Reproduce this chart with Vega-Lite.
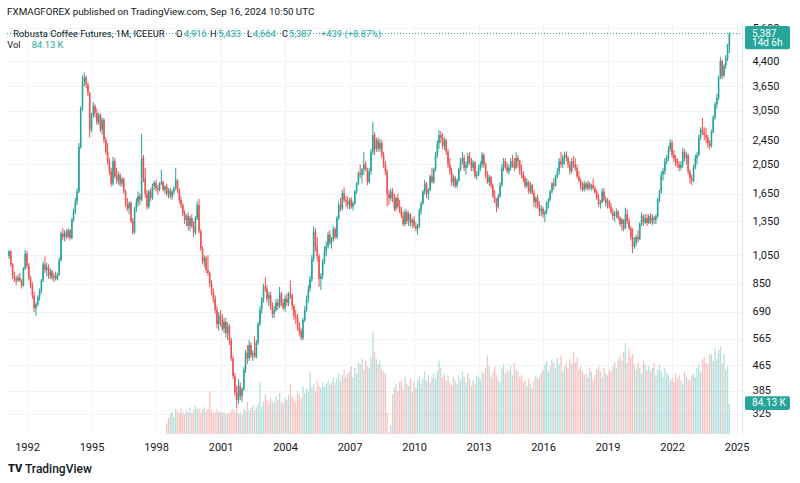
{
"$schema":"https://vega.github.io/schema/vega-lite/v6.json",
"autosize":"none",
"width":735,"height":412,
"padding":{"left":7,"top":22,"right":58,"bottom":49},
"background":"#ffffff",
"config":{"font":"Roboto","view":{"stroke":null}},
"datasets":{
"ohlc":[
{"t":"1991-03","o":1040,"h":1090,"l":1020,"c":1080},
{"t":"1991-04","o":1080,"h":1085,"l":960,"c":980},
{"t":"1991-05","o":980,"h":990,"l":880,"c":900},
{"t":"1991-06","o":900,"h":930,"l":860,"c":880},
{"t":"1991-07","o":880,"h":900,"l":840,"c":870},
{"t":"1991-08","o":870,"h":910,"l":860,"c":890},
{"t":"1991-09","o":890,"h":920,"l":860,"c":870},
{"t":"1991-10","o":870,"h":880,"l":820,"c":840},
{"t":"1991-11","o":840,"h":960,"l":830,"c":950},
{"t":"1991-12","o":950,"h":1090,"l":940,"c":1060},
{"t":"1992-01","o":1060,"h":1080,"l":950,"c":970},
{"t":"1992-02","o":970,"h":990,"l":870,"c":890},
{"t":"1992-03","o":890,"h":900,"l":820,"c":840},
{"t":"1992-04","o":840,"h":860,"l":760,"c":780},
{"t":"1992-05","o":780,"h":800,"l":690,"c":710},
{"t":"1992-06","o":710,"h":740,"l":670,"c":730},
{"t":"1992-07","o":730,"h":780,"l":720,"c":770},
{"t":"1992-08","o":770,"h":820,"l":750,"c":800},
{"t":"1992-09","o":800,"h":880,"l":790,"c":870},
{"t":"1992-10","o":870,"h":1000,"l":860,"c":980},
{"t":"1992-11","o":980,"h":1040,"l":920,"c":940},
{"t":"1992-12","o":940,"h":990,"l":900,"c":960},
{"t":"1993-01","o":960,"h":980,"l":880,"c":900},
{"t":"1993-02","o":900,"h":950,"l":880,"c":930},
{"t":"1993-03","o":930,"h":940,"l":870,"c":890},
{"t":"1993-04","o":890,"h":920,"l":860,"c":900},
{"t":"1993-05","o":900,"h":930,"l":870,"c":880},
{"t":"1993-06","o":880,"h":920,"l":870,"c":910},
{"t":"1993-07","o":910,"h":1030,"l":900,"c":1010},
{"t":"1993-08","o":1010,"h":1250,"l":1000,"c":1230},
{"t":"1993-09","o":1230,"h":1280,"l":1170,"c":1200},
{"t":"1993-10","o":1200,"h":1260,"l":1160,"c":1240},
{"t":"1993-11","o":1240,"h":1270,"l":1180,"c":1200},
{"t":"1993-12","o":1200,"h":1280,"l":1190,"c":1260},
{"t":"1994-01","o":1260,"h":1270,"l":1170,"c":1190},
{"t":"1994-02","o":1190,"h":1380,"l":1180,"c":1360},
{"t":"1994-03","o":1360,"h":1480,"l":1340,"c":1450},
{"t":"1994-04","o":1450,"h":1600,"l":1420,"c":1560},
{"t":"1994-05","o":1560,"h":1720,"l":1520,"c":1680},
{"t":"1994-06","o":1680,"h":2400,"l":1660,"c":2330},
{"t":"1994-07","o":2330,"h":3150,"l":2300,"c":3100},
{"t":"1994-08","o":3100,"h":3960,"l":3050,"c":3800},
{"t":"1994-09","o":3800,"h":4040,"l":3650,"c":3900},
{"t":"1994-10","o":3900,"h":3950,"l":3600,"c":3700},
{"t":"1994-11","o":3700,"h":3750,"l":3400,"c":3480},
{"t":"1994-12","o":3480,"h":3500,"l":2500,"c":2650},
{"t":"1995-01","o":2650,"h":3000,"l":2600,"c":2950},
{"t":"1995-02","o":2950,"h":3250,"l":2900,"c":3150},
{"t":"1995-03","o":3150,"h":3200,"l":2900,"c":3000},
{"t":"1995-04","o":3000,"h":3100,"l":2750,"c":2800},
{"t":"1995-05","o":2800,"h":3000,"l":2750,"c":2950},
{"t":"1995-06","o":2950,"h":2980,"l":2600,"c":2650},
{"t":"1995-07","o":2650,"h":2900,"l":2550,"c":2850},
{"t":"1995-08","o":2850,"h":2880,"l":2400,"c":2450},
{"t":"1995-09","o":2450,"h":2500,"l":2200,"c":2250},
{"t":"1995-10","o":2250,"h":2400,"l":2050,"c":2100},
{"t":"1995-11","o":2100,"h":2150,"l":1900,"c":1950},
{"t":"1995-12","o":1950,"h":2000,"l":1740,"c":1780},
{"t":"1996-01","o":1780,"h":2170,"l":1750,"c":2100},
{"t":"1996-02","o":2100,"h":2150,"l":1850,"c":1880},
{"t":"1996-03","o":1880,"h":2000,"l":1780,"c":1820},
{"t":"1996-04","o":1820,"h":1950,"l":1760,"c":1900},
{"t":"1996-05","o":1900,"h":1920,"l":1740,"c":1780},
{"t":"1996-06","o":1780,"h":1870,"l":1740,"c":1840},
{"t":"1996-07","o":1840,"h":1860,"l":1650,"c":1680},
{"t":"1996-08","o":1680,"h":1700,"l":1500,"c":1530},
{"t":"1996-09","o":1530,"h":1600,"l":1450,"c":1480},
{"t":"1996-10","o":1480,"h":1560,"l":1420,"c":1540},
{"t":"1996-11","o":1540,"h":1560,"l":1330,"c":1350},
{"t":"1996-12","o":1350,"h":1380,"l":1220,"c":1240},
{"t":"1997-01","o":1240,"h":1500,"l":1230,"c":1480},
{"t":"1997-02","o":1480,"h":1600,"l":1440,"c":1550},
{"t":"1997-03","o":1550,"h":1680,"l":1500,"c":1620},
{"t":"1997-04","o":1620,"h":1660,"l":1520,"c":1580},
{"t":"1997-05","o":1580,"h":2570,"l":1560,"c":2150},
{"t":"1997-06","o":2150,"h":2200,"l":1800,"c":1850},
{"t":"1997-07","o":1850,"h":2000,"l":1600,"c":1650},
{"t":"1997-08","o":1650,"h":1700,"l":1470,"c":1500},
{"t":"1997-09","o":1500,"h":1700,"l":1480,"c":1680},
{"t":"1997-10","o":1680,"h":1720,"l":1560,"c":1600},
{"t":"1997-11","o":1600,"h":1780,"l":1580,"c":1750},
{"t":"1997-12","o":1750,"h":1820,"l":1700,"c":1790},
{"t":"1998-01","o":1790,"h":1830,"l":1680,"c":1720},
{"t":"1998-02","o":1720,"h":1760,"l":1640,"c":1700},
{"t":"1998-03","o":1700,"h":1800,"l":1680,"c":1780},
{"t":"1998-04","o":1780,"h":1970,"l":1760,"c":1800},
{"t":"1998-05","o":1800,"h":1820,"l":1680,"c":1700},
{"t":"1998-06","o":1700,"h":1760,"l":1650,"c":1740},
{"t":"1998-07","o":1740,"h":1780,"l":1620,"c":1650,"v":30},
{"t":"1998-08","o":1650,"h":1720,"l":1600,"c":1690,"v":45},
{"t":"1998-09","o":1690,"h":1720,"l":1590,"c":1620,"v":55},
{"t":"1998-10","o":1620,"h":1700,"l":1580,"c":1680,"v":62},
{"t":"1998-11","o":1680,"h":1740,"l":1640,"c":1720,"v":48},
{"t":"1998-12","o":1720,"h":2000,"l":1700,"c":1820,"v":70},
{"t":"1999-01","o":1820,"h":1840,"l":1660,"c":1700,"v":65},
{"t":"1999-02","o":1700,"h":1720,"l":1540,"c":1580,"v":58},
{"t":"1999-03","o":1580,"h":1620,"l":1480,"c":1520,"v":72},
{"t":"1999-04","o":1520,"h":1540,"l":1400,"c":1430,"v":60},
{"t":"1999-05","o":1430,"h":1460,"l":1320,"c":1360,"v":55},
{"t":"1999-06","o":1360,"h":1420,"l":1300,"c":1400,"v":68},
{"t":"1999-07","o":1400,"h":1440,"l":1260,"c":1300,"v":62},
{"t":"1999-08","o":1300,"h":1400,"l":1250,"c":1380,"v":75},
{"t":"1999-09","o":1380,"h":1420,"l":1280,"c":1300,"v":58},
{"t":"1999-10","o":1300,"h":1350,"l":1200,"c":1240,"v":66},
{"t":"1999-11","o":1240,"h":1400,"l":1220,"c":1380,"v":80},
{"t":"1999-12","o":1380,"h":1560,"l":1360,"c":1520,"v":70},
{"t":"2000-01","o":1520,"h":1590,"l":1230,"c":1250,"v":72},
{"t":"2000-02","o":1250,"h":1270,"l":1080,"c":1100,"v":60},
{"t":"2000-03","o":1100,"h":1120,"l":980,"c":1000,"v":68},
{"t":"2000-04","o":1000,"h":1050,"l":960,"c":1030,"v":75},
{"t":"2000-05","o":1030,"h":1040,"l":920,"c":940,"v":64},
{"t":"2000-06","o":940,"h":1050,"l":900,"c":920,"v":70},
{"t":"2000-07","o":920,"h":930,"l":830,"c":850,"v":120},
{"t":"2000-08","o":850,"h":870,"l":780,"c":800,"v":66},
{"t":"2000-09","o":800,"h":820,"l":740,"c":760,"v":58},
{"t":"2000-10","o":760,"h":780,"l":680,"c":700,"v":62},
{"t":"2000-11","o":700,"h":720,"l":610,"c":630,"v":70},
{"t":"2000-12","o":630,"h":690,"l":600,"c":670,"v":60},
{"t":"2001-01","o":670,"h":700,"l":620,"c":650,"v":64},
{"t":"2001-02","o":650,"h":680,"l":600,"c":610,"v":58},
{"t":"2001-03","o":610,"h":660,"l":590,"c":640,"v":62},
{"t":"2001-04","o":640,"h":660,"l":570,"c":590,"v":55},
{"t":"2001-05","o":590,"h":640,"l":560,"c":620,"v":60},
{"t":"2001-06","o":620,"h":630,"l":540,"c":560,"v":58},
{"t":"2001-07","o":560,"h":570,"l":480,"c":490,"v":66},
{"t":"2001-08","o":490,"h":500,"l":420,"c":430,"v":70},
{"t":"2001-09","o":430,"h":440,"l":370,"c":380,"v":62},
{"t":"2001-10","o":380,"h":400,"l":340,"c":360,"v":75},
{"t":"2001-11","o":360,"h":420,"l":350,"c":400,"v":58},
{"t":"2001-12","o":400,"h":410,"l":360,"c":370,"v":60},
{"t":"2002-01","o":370,"h":395,"l":355,"c":390,"v":55},
{"t":"2002-02","o":390,"h":460,"l":385,"c":450,"v":70},
{"t":"2002-03","o":450,"h":520,"l":440,"c":510,"v":65},
{"t":"2002-04","o":510,"h":540,"l":470,"c":490,"v":90},
{"t":"2002-05","o":490,"h":560,"l":480,"c":540,"v":68},
{"t":"2002-06","o":540,"h":550,"l":490,"c":500,"v":72},
{"t":"2002-07","o":500,"h":520,"l":480,"c":510,"v":80},
{"t":"2002-08","o":510,"h":575,"l":490,"c":495,"v":66},
{"t":"2002-09","o":495,"h":560,"l":490,"c":550,"v":75},
{"t":"2002-10","o":550,"h":640,"l":540,"c":630,"v":85},
{"t":"2002-11","o":630,"h":720,"l":620,"c":700,"v":145},
{"t":"2002-12","o":700,"h":770,"l":680,"c":760,"v":78},
{"t":"2003-01","o":760,"h":850,"l":740,"c":830,"v":90},
{"t":"2003-02","o":830,"h":890,"l":800,"c":820,"v":110},
{"t":"2003-03","o":820,"h":840,"l":740,"c":760,"v":95},
{"t":"2003-04","o":760,"h":800,"l":720,"c":780,"v":85},
{"t":"2003-05","o":780,"h":800,"l":700,"c":720,"v":100},
{"t":"2003-06","o":720,"h":740,"l":660,"c":680,"v":92},
{"t":"2003-07","o":680,"h":720,"l":660,"c":700,"v":88},
{"t":"2003-08","o":700,"h":760,"l":690,"c":740,"v":105},
{"t":"2003-09","o":740,"h":760,"l":700,"c":720,"v":96},
{"t":"2003-10","o":720,"h":830,"l":710,"c":790,"v":115},
{"t":"2003-11","o":790,"h":800,"l":720,"c":740,"v":90},
{"t":"2003-12","o":740,"h":760,"l":700,"c":710,"v":85},
{"t":"2004-01","o":710,"h":780,"l":690,"c":760,"v":100},
{"t":"2004-02","o":760,"h":790,"l":720,"c":740,"v":95},
{"t":"2004-03","o":740,"h":800,"l":720,"c":790,"v":110},
{"t":"2004-04","o":790,"h":870,"l":760,"c":780,"v":140},
{"t":"2004-05","o":780,"h":790,"l":700,"c":720,"v":105},
{"t":"2004-06","o":720,"h":730,"l":650,"c":670,"v":98},
{"t":"2004-07","o":670,"h":700,"l":630,"c":660,"v":92},
{"t":"2004-08","o":660,"h":680,"l":600,"c":620,"v":120},
{"t":"2004-09","o":620,"h":640,"l":580,"c":600,"v":110},
{"t":"2004-10","o":600,"h":610,"l":560,"c":570,"v":100},
{"t":"2004-11","o":570,"h":660,"l":560,"c":650,"v":135},
{"t":"2004-12","o":650,"h":720,"l":640,"c":700,"v":115},
{"t":"2005-01","o":700,"h":780,"l":690,"c":760,"v":125},
{"t":"2005-02","o":760,"h":840,"l":740,"c":820,"v":118},
{"t":"2005-03","o":820,"h":900,"l":800,"c":880,"v":175},
{"t":"2005-04","o":880,"h":1050,"l":860,"c":1020,"v":130},
{"t":"2005-05","o":1020,"h":1300,"l":1000,"c":1250,"v":140},
{"t":"2005-06","o":1250,"h":1280,"l":1080,"c":1120,"v":120},
{"t":"2005-07","o":1120,"h":1200,"l":1000,"c":1040,"v":150},
{"t":"2005-08","o":1040,"h":1060,"l":830,"c":880,"v":135},
{"t":"2005-09","o":880,"h":920,"l":810,"c":900,"v":128},
{"t":"2005-10","o":900,"h":1020,"l":880,"c":1000,"v":145},
{"t":"2005-11","o":1000,"h":1120,"l":980,"c":1080,"v":132},
{"t":"2005-12","o":1080,"h":1160,"l":1040,"c":1120,"v":140},
{"t":"2006-01","o":1120,"h":1250,"l":1100,"c":1220,"v":150},
{"t":"2006-02","o":1220,"h":1260,"l":1130,"c":1150,"v":138},
{"t":"2006-03","o":1150,"h":1200,"l":1100,"c":1180,"v":145},
{"t":"2006-04","o":1180,"h":1300,"l":1160,"c":1270,"v":160},
{"t":"2006-05","o":1270,"h":1290,"l":1180,"c":1200,"v":142},
{"t":"2006-06","o":1200,"h":1400,"l":1180,"c":1380,"v":155},
{"t":"2006-07","o":1380,"h":1560,"l":1360,"c":1520,"v":170},
{"t":"2006-08","o":1520,"h":1600,"l":1450,"c":1480,"v":150},
{"t":"2006-09","o":1480,"h":1700,"l":1460,"c":1660,"v":165},
{"t":"2006-10","o":1660,"h":1730,"l":1550,"c":1580,"v":180},
{"t":"2006-11","o":1580,"h":1620,"l":1500,"c":1560,"v":160},
{"t":"2006-12","o":1560,"h":1620,"l":1480,"c":1520,"v":170},
{"t":"2007-01","o":1520,"h":1600,"l":1470,"c":1580,"v":175},
{"t":"2007-02","o":1580,"h":1610,"l":1480,"c":1500,"v":190},
{"t":"2007-03","o":1500,"h":1560,"l":1460,"c":1540,"v":160},
{"t":"2007-04","o":1540,"h":1700,"l":1520,"c":1680,"v":185},
{"t":"2007-05","o":1680,"h":1800,"l":1650,"c":1780,"v":170},
{"t":"2007-06","o":1780,"h":1950,"l":1760,"c":1920,"v":200},
{"t":"2007-07","o":1920,"h":2050,"l":1850,"c":1900,"v":195},
{"t":"2007-08","o":1900,"h":2000,"l":1780,"c":1980,"v":210},
{"t":"2007-09","o":1980,"h":2250,"l":1900,"c":2050,"v":180},
{"t":"2007-10","o":2050,"h":2100,"l":1950,"c":1980,"v":205},
{"t":"2007-11","o":1980,"h":2000,"l":1760,"c":1800,"v":190},
{"t":"2007-12","o":1800,"h":2000,"l":1780,"c":1950,"v":185},
{"t":"2008-01","o":1950,"h":2300,"l":1900,"c":2250,"v":215},
{"t":"2008-02","o":2250,"h":2800,"l":2200,"c":2550,"v":285},
{"t":"2008-03","o":2550,"h":2600,"l":2200,"c":2300,"v":230},
{"t":"2008-04","o":2300,"h":2500,"l":2250,"c":2450,"v":210},
{"t":"2008-05","o":2450,"h":2500,"l":2250,"c":2300,"v":195},
{"t":"2008-06","o":2300,"h":2480,"l":2250,"c":2400,"v":205},
{"t":"2008-07","o":2400,"h":2450,"l":2150,"c":2200,"v":180},
{"t":"2008-08","o":2200,"h":2250,"l":2000,"c":2050,"v":175},
{"t":"2008-09","o":2050,"h":2100,"l":1900,"c":1950,"v":170},
{"t":"2008-10","o":1950,"h":1980,"l":1500,"c":1650,"v":60},
{"t":"2008-11","o":1650,"h":1700,"l":1520,"c":1600,"v":5},
{"t":"2008-12","o":1600,"h":1720,"l":1560,"c":1680,"v":25},
{"t":"2009-01","o":1680,"h":1720,"l":1550,"c":1580,"v":110},
{"t":"2009-02","o":1580,"h":1650,"l":1450,"c":1480,"v":130},
{"t":"2009-03","o":1480,"h":1620,"l":1450,"c":1600,"v":140},
{"t":"2009-04","o":1600,"h":1650,"l":1480,"c":1500,"v":120},
{"t":"2009-05","o":1500,"h":1580,"l":1430,"c":1450,"v":145},
{"t":"2009-06","o":1450,"h":1500,"l":1380,"c":1400,"v":150},
{"t":"2009-07","o":1400,"h":1450,"l":1300,"c":1320,"v":125},
{"t":"2009-08","o":1320,"h":1480,"l":1300,"c":1440,"v":160},
{"t":"2009-09","o":1440,"h":1460,"l":1320,"c":1350,"v":140},
{"t":"2009-10","o":1350,"h":1450,"l":1300,"c":1420,"v":135},
{"t":"2009-11","o":1420,"h":1430,"l":1300,"c":1330,"v":155},
{"t":"2009-12","o":1330,"h":1380,"l":1280,"c":1360,"v":120},
{"t":"2010-01","o":1360,"h":1400,"l":1280,"c":1300,"v":145},
{"t":"2010-02","o":1300,"h":1340,"l":1250,"c":1280,"v":130},
{"t":"2010-03","o":1280,"h":1320,"l":1220,"c":1300,"v":150},
{"t":"2010-04","o":1300,"h":1480,"l":1280,"c":1460,"v":160},
{"t":"2010-05","o":1460,"h":1560,"l":1420,"c":1540,"v":140},
{"t":"2010-06","o":1540,"h":1700,"l":1520,"c":1680,"v":155},
{"t":"2010-07","o":1680,"h":1830,"l":1640,"c":1780,"v":175},
{"t":"2010-08","o":1780,"h":1800,"l":1600,"c":1650,"v":150},
{"t":"2010-09","o":1650,"h":1720,"l":1580,"c":1700,"v":165},
{"t":"2010-10","o":1700,"h":1900,"l":1680,"c":1880,"v":145},
{"t":"2010-11","o":1880,"h":2000,"l":1780,"c":1800,"v":160},
{"t":"2010-12","o":1800,"h":2000,"l":1780,"c":1980,"v":170},
{"t":"2011-01","o":1980,"h":2250,"l":1950,"c":2200,"v":155},
{"t":"2011-02","o":2200,"h":2450,"l":2150,"c":2400,"v":175},
{"t":"2011-03","o":2400,"h":2640,"l":2300,"c":2550,"v":205},
{"t":"2011-04","o":2550,"h":2620,"l":2400,"c":2500,"v":185},
{"t":"2011-05","o":2500,"h":2580,"l":2300,"c":2350,"v":160},
{"t":"2011-06","o":2350,"h":2500,"l":2280,"c":2450,"v":170},
{"t":"2011-07","o":2450,"h":2480,"l":2200,"c":2250,"v":150},
{"t":"2011-08","o":2250,"h":2300,"l":2000,"c":2050,"v":165},
{"t":"2011-09","o":2050,"h":2150,"l":1900,"c":1950,"v":145},
{"t":"2011-10","o":1950,"h":2000,"l":1750,"c":1800,"v":135},
{"t":"2011-11","o":1800,"h":1900,"l":1740,"c":1860,"v":160},
{"t":"2011-12","o":1860,"h":1880,"l":1720,"c":1750,"v":150},
{"t":"2012-01","o":1750,"h":1850,"l":1720,"c":1820,"v":140},
{"t":"2012-02","o":1820,"h":2000,"l":1800,"c":1980,"v":165},
{"t":"2012-03","o":1980,"h":2150,"l":1950,"c":2100,"v":150},
{"t":"2012-04","o":2100,"h":2250,"l":2050,"c":2150,"v":175},
{"t":"2012-05","o":2150,"h":2200,"l":1950,"c":2000,"v":160},
{"t":"2012-06","o":2000,"h":2100,"l":1900,"c":2050,"v":145},
{"t":"2012-07","o":2050,"h":2230,"l":2000,"c":2180,"v":170},
{"t":"2012-08","o":2180,"h":2250,"l":2050,"c":2100,"v":155},
{"t":"2012-09","o":2100,"h":2150,"l":1950,"c":2000,"v":135},
{"t":"2012-10","o":2000,"h":2120,"l":1950,"c":2080,"v":150},
{"t":"2012-11","o":2080,"h":2100,"l":1850,"c":1880,"v":140},
{"t":"2012-12","o":1880,"h":1950,"l":1830,"c":1900,"v":165},
{"t":"2013-01","o":1900,"h":2050,"l":1880,"c":2000,"v":160},
{"t":"2013-02","o":2000,"h":2100,"l":1950,"c":2050,"v":150},
{"t":"2013-03","o":2050,"h":2250,"l":2000,"c":2200,"v":175},
{"t":"2013-04","o":2200,"h":2230,"l":2000,"c":2050,"v":170},
{"t":"2013-05","o":2050,"h":2080,"l":1850,"c":1900,"v":185},
{"t":"2013-06","o":1900,"h":1950,"l":1780,"c":1800,"v":220},
{"t":"2013-07","o":1800,"h":1900,"l":1750,"c":1870,"v":190},
{"t":"2013-08","o":1870,"h":1880,"l":1720,"c":1750,"v":160},
{"t":"2013-09","o":1750,"h":1780,"l":1600,"c":1620,"v":175},
{"t":"2013-10","o":1620,"h":1700,"l":1540,"c":1560,"v":190},
{"t":"2013-11","o":1560,"h":1600,"l":1440,"c":1500,"v":165},
{"t":"2013-12","o":1500,"h":1650,"l":1480,"c":1620,"v":150},
{"t":"2014-01","o":1620,"h":1800,"l":1600,"c":1760,"v":145},
{"t":"2014-02","o":1760,"h":2050,"l":1740,"c":2000,"v":185},
{"t":"2014-03","o":2000,"h":2150,"l":1950,"c":2100,"v":195},
{"t":"2014-04","o":2100,"h":2150,"l":1980,"c":2020,"v":170},
{"t":"2014-05","o":2020,"h":2080,"l":1920,"c":1950,"v":180},
{"t":"2014-06","o":1950,"h":2050,"l":1900,"c":2000,"v":175},
{"t":"2014-07","o":2000,"h":2150,"l":1960,"c":2100,"v":190},
{"t":"2014-08","o":2100,"h":2200,"l":2000,"c":2050,"v":165},
{"t":"2014-09","o":2050,"h":2150,"l":1950,"c":2000,"v":200},
{"t":"2014-10","o":2000,"h":2250,"l":1980,"c":2150,"v":180},
{"t":"2014-11","o":2150,"h":2200,"l":2000,"c":2100,"v":175},
{"t":"2014-12","o":2100,"h":2120,"l":1900,"c":1950,"v":160},
{"t":"2015-01","o":1950,"h":2050,"l":1850,"c":1900,"v":165},
{"t":"2015-02","o":1900,"h":1950,"l":1800,"c":1850,"v":145},
{"t":"2015-03","o":1850,"h":1880,"l":1720,"c":1750,"v":150},
{"t":"2015-04","o":1750,"h":1850,"l":1720,"c":1800,"v":135},
{"t":"2015-05","o":1800,"h":1820,"l":1650,"c":1680,"v":155},
{"t":"2015-06","o":1680,"h":1800,"l":1650,"c":1760,"v":140},
{"t":"2015-07","o":1760,"h":1780,"l":1640,"c":1660,"v":130},
{"t":"2015-08","o":1660,"h":1700,"l":1500,"c":1550,"v":150},
{"t":"2015-09","o":1550,"h":1620,"l":1480,"c":1600,"v":165},
{"t":"2015-10","o":1600,"h":1640,"l":1480,"c":1500,"v":155},
{"t":"2015-11","o":1500,"h":1560,"l":1400,"c":1450,"v":160},
{"t":"2015-12","o":1450,"h":1520,"l":1400,"c":1480,"v":170},
{"t":"2016-01","o":1480,"h":1500,"l":1380,"c":1420,"v":180},
{"t":"2016-02","o":1420,"h":1460,"l":1340,"c":1440,"v":195},
{"t":"2016-03","o":1440,"h":1560,"l":1420,"c":1540,"v":205},
{"t":"2016-04","o":1540,"h":1600,"l":1480,"c":1580,"v":175},
{"t":"2016-05","o":1580,"h":1700,"l":1560,"c":1680,"v":190},
{"t":"2016-06","o":1680,"h":1800,"l":1650,"c":1780,"v":210},
{"t":"2016-07","o":1780,"h":1850,"l":1700,"c":1750,"v":200},
{"t":"2016-08","o":1750,"h":1900,"l":1740,"c":1880,"v":185},
{"t":"2016-09","o":1880,"h":2000,"l":1850,"c":1950,"v":215},
{"t":"2016-10","o":1950,"h":2150,"l":1900,"c":2100,"v":195},
{"t":"2016-11","o":2100,"h":2250,"l":2000,"c":2050,"v":220},
{"t":"2016-12","o":2050,"h":2200,"l":2000,"c":2150,"v":175},
{"t":"2017-01","o":2150,"h":2250,"l":2050,"c":2200,"v":190},
{"t":"2017-02","o":2200,"h":2260,"l":2100,"c":2150,"v":200},
{"t":"2017-03","o":2150,"h":2180,"l":2000,"c":2050,"v":185},
{"t":"2017-04","o":2050,"h":2100,"l":1900,"c":1950,"v":210},
{"t":"2017-05","o":1950,"h":2150,"l":1920,"c":2100,"v":195},
{"t":"2017-06","o":2100,"h":2180,"l":2000,"c":2050,"v":230},
{"t":"2017-07","o":2050,"h":2150,"l":1950,"c":2000,"v":200},
{"t":"2017-08","o":2000,"h":2050,"l":1850,"c":1880,"v":215},
{"t":"2017-09","o":1880,"h":1950,"l":1800,"c":1820,"v":180},
{"t":"2017-10","o":1820,"h":1850,"l":1700,"c":1740,"v":190},
{"t":"2017-11","o":1740,"h":1800,"l":1680,"c":1700,"v":175},
{"t":"2017-12","o":1700,"h":1820,"l":1680,"c":1780,"v":165},
{"t":"2018-01","o":1780,"h":1800,"l":1700,"c":1720,"v":170},
{"t":"2018-02","o":1720,"h":1820,"l":1690,"c":1780,"v":160},
{"t":"2018-03","o":1780,"h":1800,"l":1700,"c":1720,"v":185},
{"t":"2018-04","o":1720,"h":1780,"l":1690,"c":1760,"v":175},
{"t":"2018-05","o":1760,"h":1850,"l":1700,"c":1720,"v":150},
{"t":"2018-06","o":1720,"h":1750,"l":1650,"c":1670,"v":165},
{"t":"2018-07","o":1670,"h":1700,"l":1580,"c":1600,"v":180},
{"t":"2018-08","o":1600,"h":1650,"l":1500,"c":1530,"v":190},
{"t":"2018-09","o":1530,"h":1580,"l":1480,"c":1550,"v":175},
{"t":"2018-10","o":1550,"h":1720,"l":1540,"c":1680,"v":160},
{"t":"2018-11","o":1680,"h":1720,"l":1560,"c":1580,"v":185},
{"t":"2018-12","o":1580,"h":1620,"l":1500,"c":1540,"v":170},
{"t":"2019-01","o":1540,"h":1600,"l":1480,"c":1560,"v":165},
{"t":"2019-02","o":1560,"h":1580,"l":1480,"c":1500,"v":180},
{"t":"2019-03","o":1500,"h":1540,"l":1420,"c":1440,"v":175},
{"t":"2019-04","o":1440,"h":1480,"l":1360,"c":1400,"v":190},
{"t":"2019-05","o":1400,"h":1450,"l":1340,"c":1420,"v":200},
{"t":"2019-06","o":1420,"h":1480,"l":1380,"c":1450,"v":185},
{"t":"2019-07","o":1450,"h":1460,"l":1360,"c":1380,"v":210},
{"t":"2019-08","o":1380,"h":1400,"l":1300,"c":1320,"v":220},
{"t":"2019-09","o":1320,"h":1380,"l":1260,"c":1360,"v":205},
{"t":"2019-10","o":1360,"h":1370,"l":1250,"c":1280,"v":230},
{"t":"2019-11","o":1280,"h":1490,"l":1270,"c":1420,"v":255},
{"t":"2019-12","o":1420,"h":1470,"l":1320,"c":1350,"v":200},
{"t":"2020-01","o":1350,"h":1380,"l":1260,"c":1280,"v":240},
{"t":"2020-02","o":1280,"h":1300,"l":1170,"c":1200,"v":215},
{"t":"2020-03","o":1200,"h":1280,"l":1065,"c":1120,"v":225},
{"t":"2020-04","o":1120,"h":1200,"l":1100,"c":1150,"v":195},
{"t":"2020-05","o":1150,"h":1220,"l":1120,"c":1200,"v":180},
{"t":"2020-06","o":1200,"h":1260,"l":1150,"c":1180,"v":200},
{"t":"2020-07","o":1180,"h":1340,"l":1170,"c":1320,"v":185},
{"t":"2020-08","o":1320,"h":1440,"l":1300,"c":1400,"v":170},
{"t":"2020-09","o":1400,"h":1420,"l":1300,"c":1340,"v":205},
{"t":"2020-10","o":1340,"h":1420,"l":1320,"c":1380,"v":195},
{"t":"2020-11","o":1380,"h":1420,"l":1300,"c":1330,"v":180},
{"t":"2020-12","o":1330,"h":1420,"l":1320,"c":1400,"v":190},
{"t":"2021-01","o":1400,"h":1430,"l":1320,"c":1340,"v":175},
{"t":"2021-02","o":1340,"h":1420,"l":1310,"c":1380,"v":185},
{"t":"2021-03","o":1380,"h":1400,"l":1320,"c":1360,"v":200},
{"t":"2021-04","o":1360,"h":1420,"l":1320,"c":1400,"v":165},
{"t":"2021-05","o":1400,"h":1600,"l":1380,"c":1580,"v":180},
{"t":"2021-06","o":1580,"h":1700,"l":1550,"c":1680,"v":195},
{"t":"2021-07","o":1680,"h":1950,"l":1650,"c":1900,"v":175},
{"t":"2021-08","o":1900,"h":2000,"l":1820,"c":1950,"v":160},
{"t":"2021-09","o":1950,"h":2150,"l":1900,"c":2100,"v":185},
{"t":"2021-10","o":2100,"h":2200,"l":2050,"c":2150,"v":170},
{"t":"2021-11","o":2150,"h":2350,"l":2100,"c":2300,"v":165},
{"t":"2021-12","o":2300,"h":2470,"l":2250,"c":2400,"v":150},
{"t":"2022-01","o":2400,"h":2450,"l":2150,"c":2200,"v":160},
{"t":"2022-02","o":2200,"h":2280,"l":2080,"c":2150,"v":145},
{"t":"2022-03","o":2150,"h":2200,"l":2020,"c":2100,"v":170},
{"t":"2022-04","o":2100,"h":2150,"l":2000,"c":2050,"v":155},
{"t":"2022-05","o":2050,"h":2100,"l":1950,"c":2000,"v":165},
{"t":"2022-06","o":2000,"h":2100,"l":1960,"c":2050,"v":150},
{"t":"2022-07","o":2050,"h":2320,"l":2000,"c":2250,"v":140},
{"t":"2022-08","o":2250,"h":2300,"l":2100,"c":2150,"v":175},
{"t":"2022-09","o":2150,"h":2250,"l":2050,"c":2200,"v":160},
{"t":"2022-10","o":2200,"h":2220,"l":1900,"c":1950,"v":155},
{"t":"2022-11","o":1950,"h":1980,"l":1780,"c":1850,"v":150},
{"t":"2022-12","o":1850,"h":1900,"l":1760,"c":1820,"v":165},
{"t":"2023-01","o":1820,"h":2050,"l":1800,"c":2000,"v":170},
{"t":"2023-02","o":2000,"h":2200,"l":1980,"c":2150,"v":160},
{"t":"2023-03","o":2150,"h":2250,"l":2050,"c":2200,"v":185},
{"t":"2023-04","o":2200,"h":2550,"l":2180,"c":2500,"v":195},
{"t":"2023-05","o":2500,"h":2700,"l":2450,"c":2650,"v":175},
{"t":"2023-06","o":2650,"h":2890,"l":2550,"c":2600,"v":210},
{"t":"2023-07","o":2600,"h":2700,"l":2450,"c":2550,"v":215},
{"t":"2023-08","o":2550,"h":2680,"l":2400,"c":2500,"v":200},
{"t":"2023-09","o":2500,"h":2550,"l":2320,"c":2400,"v":195},
{"t":"2023-10","o":2400,"h":2450,"l":2290,"c":2350,"v":220},
{"t":"2023-11","o":2350,"h":2650,"l":2320,"c":2600,"v":225},
{"t":"2023-12","o":2600,"h":2950,"l":2580,"c":2900,"v":205},
{"t":"2024-01","o":2900,"h":3250,"l":2850,"c":3200,"v":240},
{"t":"2024-02","o":3200,"h":3450,"l":3100,"c":3350,"v":210},
{"t":"2024-03","o":3350,"h":3950,"l":3300,"c":3900,"v":235},
{"t":"2024-04","o":3900,"h":4540,"l":3850,"c":4400,"v":245},
{"t":"2024-05","o":4400,"h":4450,"l":3850,"c":3950,"v":200},
{"t":"2024-06","o":3950,"h":4300,"l":3900,"c":4250,"v":225},
{"t":"2024-07","o":4250,"h":4600,"l":4150,"c":4500,"v":180},
{"t":"2024-08","o":4500,"h":5000,"l":4400,"c":4948,"v":190},
{"t":"2024-09","o":4916,"h":5433,"l":4664,"c":5387,"v":84.13}
],
"pl":[{"t":"1991-01-26","p":5387},{"t":"2025-04-03","p":5387}],
"box":[
{"t":"2025-05-24","t2":"2027-06-27","p":5700,"p2":4797},
{"t":"2025-05-24","t2":"2027-06-27","p":370,"p2":334}
],
"lab":[
{"t":"1991-05-12","p":5387,"s":"Robusta Coffee Futures, 1M, ICEEUR","k":"d"},
{"t":"1998-12-05","p":5387,"s":"O","k":"d"},
{"t":"1999-04-20","p":5387,"s":"4,916","k":"g"},
{"t":"2000-07-06","p":5387,"s":"H","k":"d"},
{"t":"2000-11-19","p":5387,"s":"5,433","k":"g"},
{"t":"2002-03-26","p":5387,"s":"L","k":"d"},
{"t":"2002-07-06","p":5387,"s":"4,664","k":"g"},
{"t":"2003-11-10","p":5387,"s":"C","k":"d"},
{"t":"2004-03-08","p":5387,"s":"5,387","k":"g"},
{"t":"2005-09-03","p":5387,"s":"+439 (+8.87%)","k":"g"},
{"t":"1991-01-30","p":4952,"s":"Vol","k":"d"},
{"t":"1992-03-21","p":4952,"s":"84.13 K","k":"g"}
],
"boxlab":[
{"t":"2025-09-20","p":5387,"s":"5,387"},
{"t":"2025-09-20","p":5015,"s":"14d 6h"},
{"t":"2025-09-20","p":351,"s":"84.13 K"}
],
"head":[{"t":"1991-01-28","p":6319,"s":"FXMAGFOREX published on TradingView.com, Sep 16, 2024 10:50 UTC"}],
"logo":[{"t":"1991-02-10","p":216,"s":"TV"}],
"brand":[{"t":"1991-11-27","p":216,"s":"TradingView"}]
},
"encoding":{
"x":{"field":"t","type":"temporal",
"scale":{"domain":[{"year":1991,"month":1,"date":26},{"year":2025,"month":4,"date":3}],"padding":0},
"axis":{"values":[{"year":1992},{"year":1995},{"year":1998},{"year":2001},{"year":2004},{"year":2007},{"year":2010},{"year":2013},{"year":2016},{"year":2019},{"year":2022},{"year":2025}],
"format":"%Y","title":null,"grid":true,"gridColor":"#f0f3fa","gridWidth":1,"ticks":false,"tickSize":0,"domain":false,
"labelPadding":7,"labelFontSize":11,"labelColor":"#131722","labelOverlap":false,"labelFlush":false}}
},
"layer":[
{"data":{"name":"ohlc"},
"mark":{"type":"bar","size":1.3},
"encoding":{
"y":{"field":"v","type":"quantitative","scale":{"domain":[0,1155]},"axis":null},
"color":{"condition":{"test":"datum.c >= datum.o","value":"#26a69a"},"value":"#ef5350"},
"opacity":{"value":0.35}}},
{"layer":[
{"data":{"name":"ohlc"},
"mark":{"type":"rule","strokeWidth":1},
"encoding":{
"y":{"field":"h","type":"quantitative","scale":{"type":"log","domain":[280,5870]},
"axis":{"orient":"right","values":[325,385,465,565,690,850,1050,1350,1650,2050,2450,3050,3650,4400,5600],"format":",","title":null,"grid":true,"gridColor":"#f0f3fa","ticks":false,"tickSize":0,"domain":true,"domainColor":"#e0e3eb","labelPadding":10,"labelFontSize":11,"labelColor":"#131722","labelFlush":false,"labelOverlap":false,"zindex":0}},
"y2":{"field":"l"},
"color":{"condition":{"test":"datum.c >= datum.o","value":"#26a69a"},"value":"#ef5350"}}},
{"data":{"name":"ohlc"},
"mark":{"type":"rule","strokeWidth":1.6},
"encoding":{
"y":{"field":"o","type":"quantitative","scale":{"type":"log","domain":[280,5870]},
"axis":{"orient":"right","values":[325,385,465,565,690,850,1050,1350,1650,2050,2450,3050,3650,4400,5600],"format":",","title":null,"grid":true,"gridColor":"#f0f3fa","ticks":false,"tickSize":0,"domain":true,"domainColor":"#e0e3eb","labelPadding":10,"labelFontSize":11,"labelColor":"#131722","labelFlush":false,"labelOverlap":false,"zindex":0}},
"y2":{"field":"c"},
"color":{"condition":{"test":"datum.c >= datum.o","value":"#26a69a"},"value":"#ef5350"}}},
{"data":{"name":"pl"},
"mark":{"type":"line","strokeDash":[1,2],"strokeWidth":1,"color":"#26a69a"},
"encoding":{"y":{"field":"p","type":"quantitative","scale":{"type":"log","domain":[280,5870]},
"axis":{"orient":"right","values":[325,385,465,565,690,850,1050,1350,1650,2050,2450,3050,3650,4400,5600],"format":",","title":null,"grid":true,"gridColor":"#f0f3fa","ticks":false,"tickSize":0,"domain":true,"domainColor":"#e0e3eb","labelPadding":10,"labelFontSize":11,"labelColor":"#131722","labelFlush":false,"labelOverlap":false,"zindex":0}}}},
{"data":{"name":"box"},
"mark":{"type":"rect","color":"#26a69a","clip":false,"cornerRadius":2},
"encoding":{"x2":{"field":"t2"},
"y":{"field":"p","type":"quantitative","scale":{"type":"log","domain":[280,5870]},
"axis":{"orient":"right","values":[325,385,465,565,690,850,1050,1350,1650,2050,2450,3050,3650,4400,5600],"format":",","title":null,"grid":true,"gridColor":"#f0f3fa","ticks":false,"tickSize":0,"domain":true,"domainColor":"#e0e3eb","labelPadding":10,"labelFontSize":11,"labelColor":"#131722","labelFlush":false,"labelOverlap":false,"zindex":0}},
"y2":{"field":"p2"}}},
{"data":{"name":"lab"},
"mark":{"type":"text","align":"left","baseline":"middle","fontSize":9.4,"clip":false},
"encoding":{
"y":{"field":"p","type":"quantitative","scale":{"type":"log","domain":[280,5870]},
"axis":{"orient":"right","values":[325,385,465,565,690,850,1050,1350,1650,2050,2450,3050,3650,4400,5600],"format":",","title":null,"grid":true,"gridColor":"#f0f3fa","ticks":false,"tickSize":0,"domain":true,"domainColor":"#e0e3eb","labelPadding":10,"labelFontSize":11,"labelColor":"#131722","labelFlush":false,"labelOverlap":false,"zindex":0}},
"text":{"field":"s"},
"color":{"field":"k","type":"nominal","scale":{"domain":["d","g"],"range":["#131722","#26a69a"]},"legend":null}}},
{"data":{"name":"boxlab"},
"mark":{"type":"text","align":"left","baseline":"middle","fontSize":10,"color":"#ffffff","clip":false},
"encoding":{
"y":{"field":"p","type":"quantitative","scale":{"type":"log","domain":[280,5870]},
"axis":{"orient":"right","values":[325,385,465,565,690,850,1050,1350,1650,2050,2450,3050,3650,4400,5600],"format":",","title":null,"grid":true,"gridColor":"#f0f3fa","ticks":false,"tickSize":0,"domain":true,"domainColor":"#e0e3eb","labelPadding":10,"labelFontSize":11,"labelColor":"#131722","labelFlush":false,"labelOverlap":false,"zindex":0}},
"text":{"field":"s"}}},
{"data":{"name":"head"},
"mark":{"type":"text","align":"left","baseline":"middle","fontSize":9.8,"color":"#131722","clip":false},
"encoding":{
"y":{"field":"p","type":"quantitative","scale":{"type":"log","domain":[280,5870]},
"axis":{"orient":"right","values":[325,385,465,565,690,850,1050,1350,1650,2050,2450,3050,3650,4400,5600],"format":",","title":null,"grid":true,"gridColor":"#f0f3fa","ticks":false,"tickSize":0,"domain":true,"domainColor":"#e0e3eb","labelPadding":10,"labelFontSize":11,"labelColor":"#131722","labelFlush":false,"labelOverlap":false,"zindex":0}},
"text":{"field":"s"}}},
{"data":{"name":"logo"},
"mark":{"type":"text","align":"left","baseline":"middle","fontSize":11,"fontWeight":900,"color":"#131722","clip":false},
"encoding":{
"y":{"field":"p","type":"quantitative","scale":{"type":"log","domain":[280,5870]},
"axis":{"orient":"right","values":[325,385,465,565,690,850,1050,1350,1650,2050,2450,3050,3650,4400,5600],"format":",","title":null,"grid":true,"gridColor":"#f0f3fa","ticks":false,"tickSize":0,"domain":true,"domainColor":"#e0e3eb","labelPadding":10,"labelFontSize":11,"labelColor":"#131722","labelFlush":false,"labelOverlap":false,"zindex":0}},
"text":{"field":"s"}}},
{"data":{"name":"brand"},
"mark":{"type":"text","align":"left","baseline":"middle","fontSize":12,"fontWeight":500,"color":"#131722","clip":false},
"encoding":{
"y":{"field":"p","type":"quantitative","scale":{"type":"log","domain":[280,5870]},
"axis":{"orient":"right","values":[325,385,465,565,690,850,1050,1350,1650,2050,2450,3050,3650,4400,5600],"format":",","title":null,"grid":true,"gridColor":"#f0f3fa","ticks":false,"tickSize":0,"domain":true,"domainColor":"#e0e3eb","labelPadding":10,"labelFontSize":11,"labelColor":"#131722","labelFlush":false,"labelOverlap":false,"zindex":0}},
"text":{"field":"s"}}}
]}
],
"resolve":{"scale":{"y":"independent"}}
}
